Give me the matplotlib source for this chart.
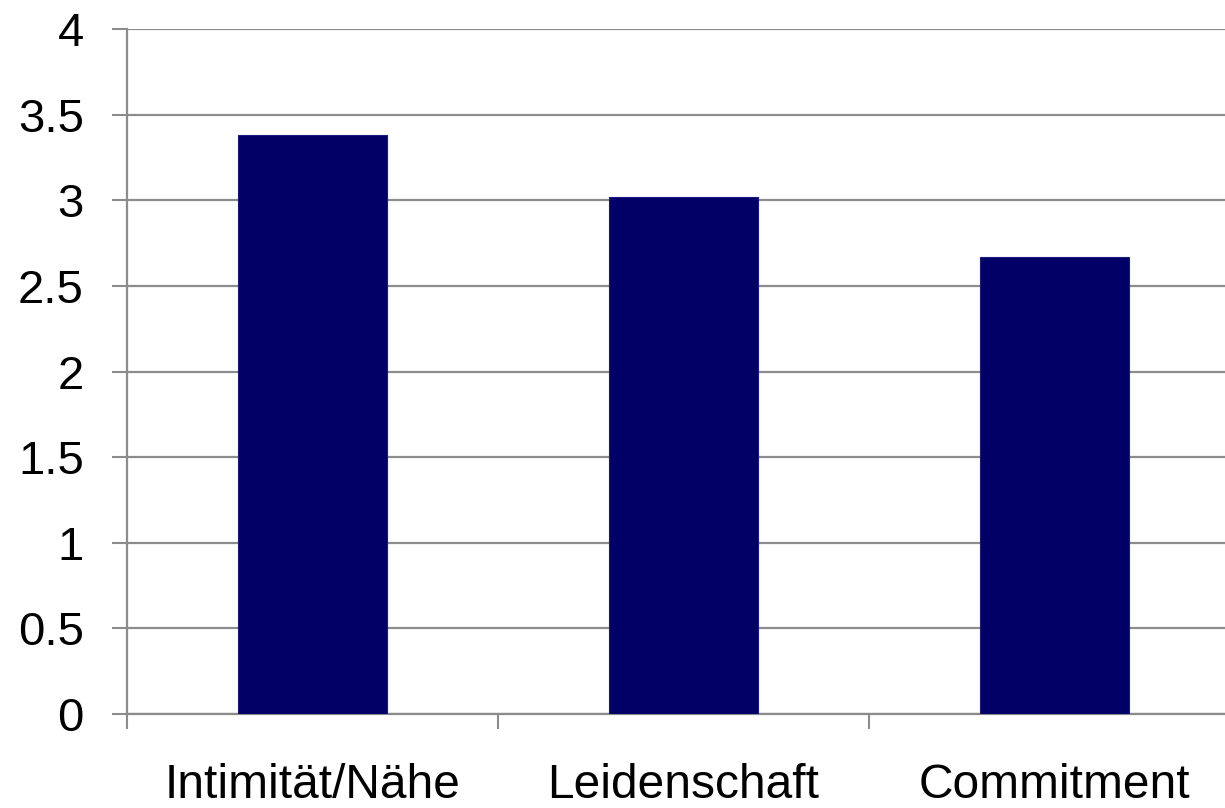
import matplotlib.pyplot as plt
import numpy as np

# Mean scores per love component
categories = ['Intimität/Nähe', 'Leidenschaft', 'Commitment']
scores = [3.38, 3.02, 2.67]
y_ticks = [0, 0.5, 1, 1.5, 2, 2.5, 3, 3.5, 4]
y_tick_labels = ['0', '0.5', '1', '1.5', '2', '2.5', '3', '3.5', '4']

plt.rcParams['font.family'] = ['Liberation Sans', 'DejaVu Sans']

fig = plt.figure(figsize=(12.25, 8.08), dpi=100)
ax = fig.add_axes([0.1037, 0.1163, 0.9086, 0.8478])

x = np.arange(len(categories))
ax.bar(x, scores, width=0.40, color='#000066', edgecolor='#1a1a80',
       linewidth=0.8, zorder=3)

ax.set_xlim(-0.5, len(categories) - 0.5)
ax.set_ylim(0, 4)

grid_color = '#8c8c8c'
ax.set_yticks(y_ticks)
ax.set_yticklabels(y_tick_labels, fontsize=34)
ax.yaxis.grid(True, color=grid_color, linewidth=1.6, zorder=0)
ax.tick_params(axis='y', length=11, width=1.5, color=grid_color, pad=20)

# category labels centred, separator ticks between categories
ax.set_xticks(x)
ax.set_xticklabels(categories, fontsize=34.5)
ax.tick_params(axis='x', which='major', length=0, pad=35)
ax.set_xticks(np.arange(-0.5, len(categories), 1.0), minor=True)
ax.tick_params(axis='x', which='minor', length=11, width=1.5,
               color=grid_color, direction='out')

for side in ['top', 'right']:
    ax.spines[side].set_visible(False)
for side in ['left', 'bottom']:
    ax.spines[side].set_color(grid_color)
    ax.spines[side].set_linewidth(1.6)

fig.savefig('out.png', dpi=100)
